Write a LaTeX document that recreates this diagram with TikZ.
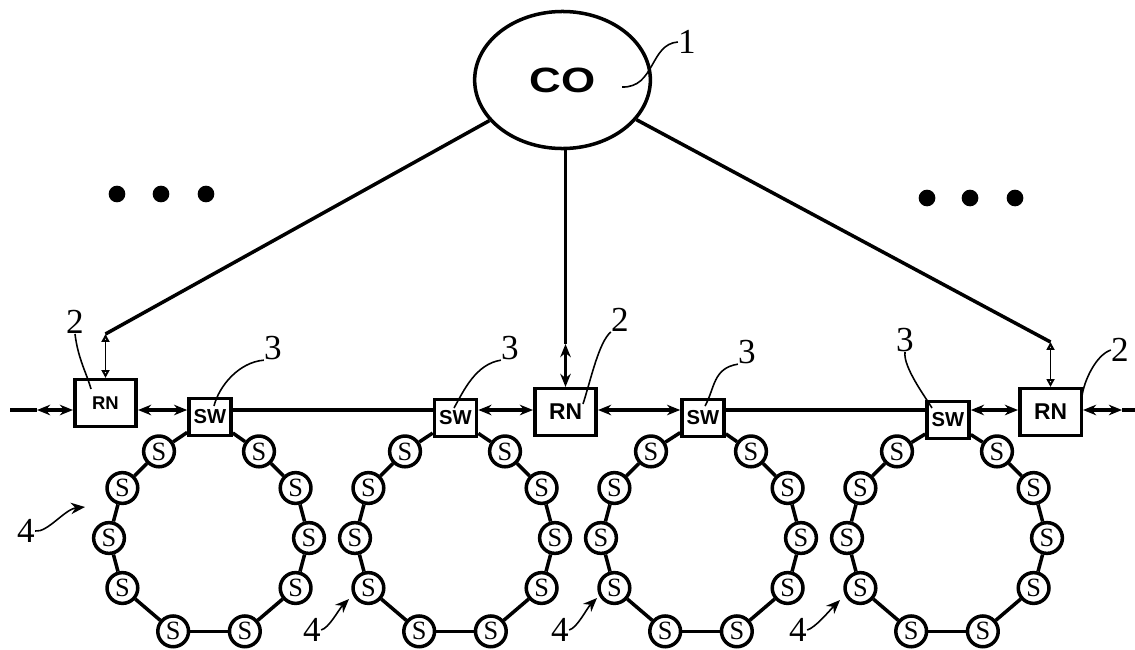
\documentclass[tikz,border=0pt]{standalone}
\usepackage{fontspec}
\setmainfont{Liberation Serif}
\setsansfont{Liberation Sans}
\usepackage{tikz}
\usetikzlibrary{arrows.meta,positioning,calc,shapes.geometric}
\definecolor{nwInk}{HTML}{000000}
\tikzset{
  nwLine/.style={line width=2pt,draw=nwInk},
  nwBus/.style={nwLine,{Stealth[length=7.5pt,width=6pt]}-{Stealth[length=7.5pt,width=6pt]}},
  nwDrop/.style={line width=1.1pt,draw=nwInk,
    {Triangle[open,length=4.5pt,width=4.5pt]}-{Triangle[open,length=4.5pt,width=4.5pt]}},
  nwCO/.style={ellipse,draw=nwInk,line width=2pt,minimum width=100pt,
    minimum height=78pt,inner sep=0pt,font=\sffamily\bfseries\fontsize{20}{20}\selectfont},
  nwRN/.style={rectangle,draw=nwInk,fill=white,line width=2pt,minimum width=35pt,
    minimum height=26.5pt,inner sep=0pt,font=\sffamily\bfseries\fontsize{13}{13}\selectfont},
  nwSW/.style={nwRN,minimum width=24pt,minimum height=21pt,
    font=\sffamily\bfseries\fontsize{11.5}{11.5}\selectfont},
  nwS/.style={circle,draw=nwInk,fill=white,line width=2pt,minimum size=17.5pt,
    inner sep=0pt,font=\fontsize{15}{15}\selectfont},
  nwNum/.style={font=\fontsize{20}{20}\selectfont,inner sep=0pt},
  nwLead/.style={line width=0.9pt,draw=nwInk},
  nwPoint/.style={nwLead,-{Stealth[length=8pt,width=6.5pt]}},
  nwDot/.style={circle,fill=nwInk,minimum size=9.5pt,inner sep=0pt}
}
\begin{document}
\begin{tikzpicture}[x=0.02cm,y=-0.02cm]
\path[use as bounding box] (0,0) rectangle (1135,649);
% central office and the three remote nodes
\node[nwCO] (co) at (562.5,80) {\scalebox{1.25}[1]{CO}};
\node[nwRN,font=\sffamily\bfseries\fontsize{10.5}{10.5}\selectfont] (rn1) at (105.5,403) {RN};
\node[nwRN] (rn2) at (565.5,412) {RN};
\node[nwRN] (rn3) at (1050.5,412) {RN};
\foreach \i/\x/\y in {1/210/417,2/455.5/418,3/703/418,4/948/420}
  \node[nwSW] (sw\i) at (\x,\y) {SW};
% more branches
\foreach \x [count=\k] in {117,161,206}
  \node[nwDot] (dl\k) at (\x,194) {};
\foreach \x [count=\k] in {927,970,1015}
  \node[nwDot] (dr\k) at (\x,198) {};
% bus
\coordinate (bus) at (0,410);
\coordinate (busL) at (10,410);
\coordinate (busLtip) at (37,410);
\coordinate (busRtip) at (1122,410);
\coordinate (busR) at (1135,410);
\draw[nwLine] (busL) -- (busLtip);
\draw[nwBus] (busLtip) -- (rn1.west |- bus);
\draw[nwBus] (rn1.east |- bus) -- (sw1.west |- bus);
\draw[nwLine] (sw1.east |- bus) -- (sw2.west |- bus);
\draw[nwBus] (sw2.east |- bus) -- (rn2.west |- bus);
\draw[nwBus] (rn2.east |- bus) -- (sw3.west |- bus);
\draw[nwLine] (sw3.east |- bus) -- (sw4.west |- bus);
\draw[nwBus] (sw4.east |- bus) -- (rn3.west |- bus);
\draw[nwBus] (rn3.east |- bus) -- (busRtip);
\draw[nwLine] (busRtip) -- (busR);
% feeders from CO
\coordinate (kl) at (105.5,334);
\coordinate (km) at (565.5,344);
\coordinate (kr) at (1050.5,342);
\draw[nwLine] (co) -- (kl);
\draw[nwDrop] (kl) -- (rn1.north);
\draw[nwLine] (co.south -| km) -- (km);
\draw[nwBus] (km) -- (rn2.north);
\draw[nwLine] (co) -- (kr);
\draw[nwDrop] (kr) -- (rn3.north);
% rings of stations
\foreach \r/\cx in {1/209,2/455,3/701,4/947}{
  \foreach \a [count=\k] in {-60,-30,0,30,69,111,150,180,210,240}
    \node[nwS] (s\r-\k) at ($(\cx,538)+(\a:100)$) {S};
  \foreach \k [count=\n from 2] in {1,...,9}
    \draw[nwLine] (s\r-\k) -- (s\r-\n);
  \draw[nwLine] (sw\r) -- (s\r-1);
  \draw[nwLine] (sw\r) -- (s\r-10);
}
% reference numerals
\node[nwNum] (n1) at (687,42) {1};
\node[nwNum] (n2a) at (75,322) {2};
\node[nwNum] (n3a) at (273,348) {3};
\node[nwNum] (n3b) at (510,348) {3};
\node[nwNum] (n2b) at (620,320) {2};
\node[nwNum] (n3c) at (747,352) {3};
\node[nwNum] (n3d) at (905,340) {3};
\node[nwNum] (n2c) at (1120,350) {2};
\node[nwNum] (n4a) at (26,531) {4};
\node[nwNum] (n4b) at (312,630) {4};
\node[nwNum] (n4c) at (560,630) {4};
\node[nwNum] (n4d) at (798,630) {4};
\coordinate (t1) at (622,87);
\coordinate (t2a) at (91,389);
\coordinate (t3a) at (214,406);
\coordinate (t3b) at (454,408);
\coordinate (t2b) at (583,404);
\coordinate (t3c) at (705,406);
\coordinate (t3d) at (932,408);
\coordinate (t2c) at (1082,396);
\draw[nwLead] (n1.west) .. controls +(-28,2) and +(33,1) .. (t1);
\draw[nwLead] (n2a.south) .. controls +(3,25) and +(-4,-15) .. (t2a);
\draw[nwLead] (n3a.south west) .. controls +(-25,2) and +(5,-20) .. (t3a);
\draw[nwLead] (n3b.south west) .. controls +(-25,4) and +(10,-18) .. (t3b);
\draw[nwLead] (n2b.south west) .. controls +(-12,10) and +(8,-25) .. (t2b);
\draw[nwLead] (n3c.south west) .. controls +(-25,4) and +(10,-18) .. (t3c);
\draw[nwLead] (n3d.south) .. controls +(-2,15) and +(-6,-10) .. (t3d);
\draw[nwLead] (n2c.west) .. controls +(-15,5) and +(2,-15) .. (t2c);
\coordinate (p4a) at (85,507);
\coordinate (p4b) at (349,599);
\coordinate (p4c) at (597,598);
\coordinate (p4d) at (840,600);
\draw[nwPoint] (n4a.east) .. controls +(12,2) and +(-20,2) .. (p4a);
\draw[nwPoint] (n4b.east) .. controls +(8,-2) and +(-10,10) .. (p4b);
\draw[nwPoint] (n4c.east) .. controls +(8,-2) and +(-10,10) .. (p4c);
\draw[nwPoint] (n4d.east) .. controls +(8,-2) and +(-10,10) .. (p4d);
\end{tikzpicture}
\end{document}
